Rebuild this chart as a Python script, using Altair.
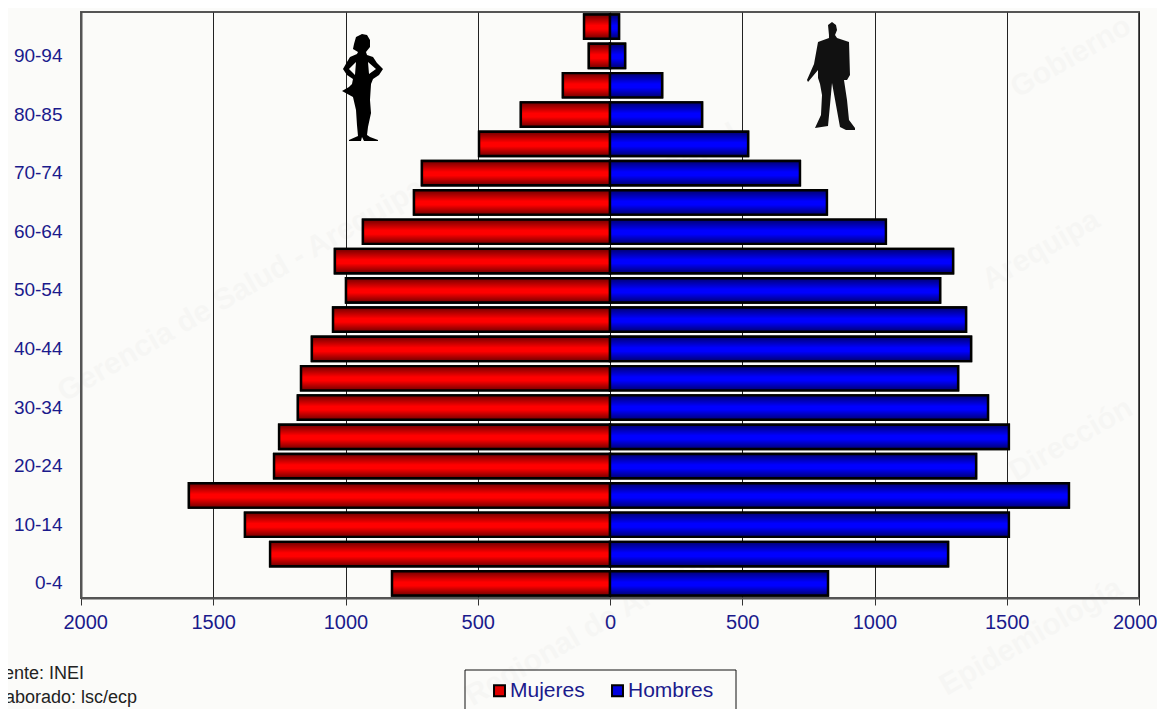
import altair as alt
import pandas as pd

# Age groups, oldest first (top of the pyramid)
grupos = ["95+", "90-94", "85-89", "80-85", "75-79", "70-74", "65-69", "60-64", "55-59", "50-54",
          "45-49", "40-44", "35-39", "30-34", "25-29", "20-24", "15-19", "10-14", "5-9", "0-4"]
mujeres = [98, 80, 178, 337, 495, 711, 741, 934, 1040, 998,
           1047, 1127, 1168, 1180, 1251, 1270, 1592, 1380, 1285, 824]
hombres = [34, 57, 197, 348, 522, 718, 820, 1043, 1297, 1248,
           1346, 1365, 1316, 1429, 1508, 1384, 1735, 1508, 1278, 824]
etiquetas_y = ["90-94", "80-85", "70-74", "60-64", "50-54", "40-44", "30-34", "20-24", "10-14", "0-4"]
ticks_x = [-2000, -1500, -1000, -500, 0, 500, 1000, 1500, 2000]
series = ["Mujeres", "Hombres"]
fuente = ["Fuente: INEI", "Elaborado: lsc/ecp"]
marcas_agua = ["Gerencia de Salud - Arequipa", "Gobierno", "Arequipa", "Dirección",
               "Salud", "Regional de Arequipa", "Epidemiología"]

AZUL = "#1a1a8c"
FONDO = "#fbfbf9"
W, H = 1058, 586


def silueta(contornos, cx, cy, esc=54):
    partes = []
    for c in contornos:
        pts = [f"{(x - cx) / esc:.3f},{(y - cy) / esc:.3f}" for x, y in c]
        partes.append("M" + " L".join(pts) + " Z")
    return " ".join(partes)


mujer = silueta([
    [(362, 34), (367, 35), (370, 40), (370, 47), (366, 52), (367, 55), (373, 57), (377, 63), (383, 69),
     (379, 75), (373, 79), (371, 84), (370, 100), (371, 113), (368, 127), (367, 135), (370, 137),
     (378, 140), (378, 141), (364, 141), (362, 137), (361, 141), (349, 141), (349, 140), (358, 136),
     (357, 125), (356, 110), (353, 97), (342, 91), (349, 87), (352, 84), (353, 79), (347, 75), (343, 69),
     (347, 62), (350, 57), (357, 54), (358, 52), (353, 49), (354, 44), (356, 37)],
    [(368, 62), (369, 74), (376, 69)],
    [(356, 62), (349, 69), (355, 75)],
], 362, 88)
hombre = silueta([
    [(828, 25), (832, 22), (836, 25), (837, 30), (835, 35), (837, 38), (849, 42), (850, 75), (847, 80),
     (844, 80), (847, 100), (849, 120), (855, 128), (855, 130), (846, 130), (840, 127), (836, 105),
     (832, 83), (830, 105), (828, 126), (815, 128), (821, 115), (822, 95), (820, 84), (818, 78), (818, 70),
     (808, 82), (807, 80), (814, 64), (818, 42), (829, 38), (829, 35)],
], 832, 76)


def degradado(oscuro, vivo):
    return alt.Gradient(
        gradient="linear", x1=0, x2=0, y1=0, y2=1,
        stops=[alt.GradientStop(offset=0, color=oscuro),
               alt.GradientStop(offset=0.45, color=vivo),
               alt.GradientStop(offset=0.6, color=vivo),
               alt.GradientStop(offset=1, color=oscuro)],
    )


df = pd.DataFrame({
    "grupo": grupos * 2,
    "sexo": ["Mujeres"] * len(grupos) + ["Hombres"] * len(grupos),
    "valor": [-v for v in mujeres] + hombres,
})

x_enc = alt.X(
    "valor:Q", stack=None,
    scale=alt.Scale(domain=[-2000, 2000], nice=False),
    axis=alt.Axis(
        values=ticks_x, labelExpr="abs(datum.value)", title=None,
        grid=True, gridColor="#222222", gridWidth=1,
        domain=True, domainColor="#555555", domainWidth=2,
        ticks=True, tickColor="#333333", tickSize=7, tickWidth=1,
        labelFont="Liberation Sans", labelFontSize=20, labelColor=AZUL, labelPadding=7,
        labelFlush=True, labelFlushOffset=18, labelOverlap=False,
    ),
)
y_enc = alt.Y(
    "grupo:N", sort=grupos,
    scale=alt.Scale(domain=grupos, paddingInner=0.17, paddingOuter=0.085),
    axis=alt.Axis(
        values=etiquetas_y, title=None, ticks=False, grid=False,
        domain=True, domainColor="#555555", domainWidth=2,
        labelFont="Liberation Sans", labelFontSize=19, labelColor=AZUL, labelPadding=19,
        labelOverlap=False,
    ),
)

wm = pd.DataFrame({"t": marcas_agua})
wm["px"] = [160, 990, 960, 990, 620, 520, 950]
wm["py"] = [278, 45, 238, 428, 140, 610, 625]
agua = alt.Chart(wm).mark_text(
    font="Liberation Sans", fontWeight="bold", fontSize=30, angle=330,
    color="#777777", opacity=0.03,
).encode(x=alt.X("px:Q", scale=None), y=alt.Y("py:Q", scale=None), text="t:N")

base = alt.Chart(df).mark_bar(stroke="black", strokeWidth=2.4).encode(
    x=x_enc, y=y_enc,
    color=alt.Color(
        "sexo:N",
        scale=alt.Scale(domain=series, range=["#e00000", "#0000e0"]),
        legend=alt.Legend(
            orient="none", legendX=408, legendY=668, direction="horizontal", title=None, padding=0,
            symbolType="square", symbolSize=120, symbolStrokeColor="black", symbolStrokeWidth=2,
            labelFont="Liberation Sans", labelFontSize=21, labelColor=AZUL, labelOffset=0,
            columnPadding=22, labelLimit=200,
        ),
    ),
)
capa_m = alt.Chart(df[df.sexo == "Mujeres"]).mark_bar(
    stroke="black", strokeWidth=2.4, color=degradado("#700000", "#ff0000")
).encode(x=alt.X("valor:Q", stack=None), y=alt.Y("grupo:N", sort=grupos))
capa_h = alt.Chart(df[df.sexo == "Hombres"]).mark_bar(
    stroke="black", strokeWidth=2.4, color=degradado("#000070", "#0000ff")
).encode(x=alt.X("valor:Q", stack=None), y=alt.Y("grupo:N", sort=grupos))

uno = pd.DataFrame({"k": [0]})
fig_m = alt.Chart(uno).mark_point(shape=mujer, filled=True, size=11664, color="black", opacity=1).encode(
    x=alt.value(281), y=alt.value(76))
fig_h = alt.Chart(uno).mark_point(shape=hombre, filled=True, size=11664, color="#111111", opacity=1).encode(
    x=alt.value(751), y=alt.value(64))

caja = alt.Chart(uno).mark_rect(fillOpacity=0, stroke="#111111", strokeWidth=1).encode(
    x=alt.value(384), x2=alt.value(655), y=alt.value(658), y2=alt.value(730))

txt = pd.DataFrame({"t": fuente, "px": [3, 56], "py": [662, 686]})
fuente_txt = alt.Chart(txt).mark_text(
    font="Liberation Sans", fontSize=18, align="right", color="#222222",
).encode(x=alt.X("px:Q", scale=None), y=alt.Y("py:Q", scale=None), text="t:N")

chart = alt.layer(agua, base, capa_m, capa_h, fig_m, fig_h, caja, fuente_txt).resolve_scale(
    x="shared", y="shared"
).properties(
    width=W, height=H,
    background=FONDO,
    autosize=alt.AutoSizeParams(type="none"),
    padding={"left": 73, "top": 4, "right": 18, "bottom": 111},
).configure_view(stroke="#555555", strokeWidth=2, fill=FONDO)

chart.save("out.html", embed_options={"renderer": "svg", "actions": False})
